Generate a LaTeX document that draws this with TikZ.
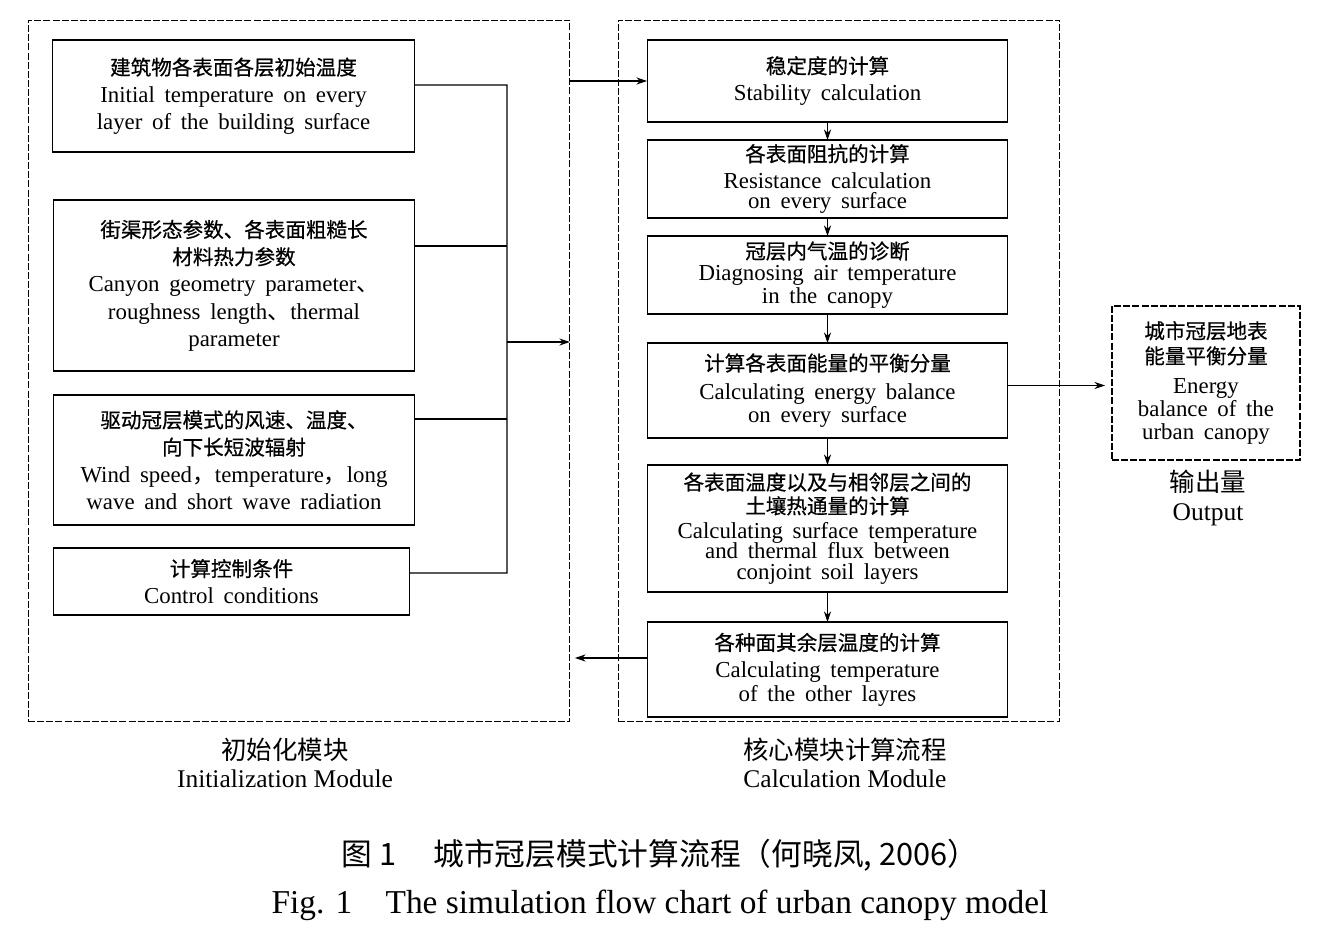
\documentclass[tikz,border=0pt]{standalone}
\usepackage{fontspec}
\setmainfont{Liberation Serif}
\newfontfamily\boxfont{Liberation Serif}[WordSpace=1.7]
\newfontfamily\cjk{Noto Sans CJK SC}
\newfontfamily\cjkb{Noto Sans CJK SC}[Scale=0.9, FakeBold=0.6]
\usetikzlibrary{arrows.meta}
\usetikzlibrary{positioning}

\begin{document}
\begin{tikzpicture}[x=0.02cm,y=-0.02cm,
    >={Stealth[length=6pt,width=4pt]},
    stepbox/.style={draw, rectangle, line width=0.6pt, inner sep=0pt, outer sep=0pt, align=center, font=\boxfont\fontsize{13}{15.5}\selectfont},
    modbox/.style={draw, rectangle, line width=0.6pt, inner sep=0pt, outer sep=0pt, dash pattern=on 4pt off 1.2pt},
    outbox/.style={modbox, align=center, font=\boxfont\fontsize{13}{13.3}\selectfont},
    modlabel/.style={align=center, font=\fontsize{14.5}{16}\selectfont}]
            \useasboundingbox (0,0) rectangle (1320,933);
            % modules
            \node[modbox, minimum width=10.84cm, minimum height=14.04cm] (modL) at (299,371) {};
            \node[modbox, minimum width=8.84cm, minimum height=14.04cm] (modR) at (839,371) {};
            \node[outbox, minimum width=3.76cm, minimum height=3.08cm] (outp) at (1206,383) {\cjkb 城市冠层地表\\[1pt]\cjkb 能量平衡分量\\[3.5pt]Energy\\balance of the\\urban canopy};

            % initialization module
            \node[stepbox, minimum width=7.26cm, minimum height=2.24cm] (init1) at (233.5,96) {\cjkb 建筑物各表面各层初始温度\\Initial temperature on every\\layer of the building surface};
            \node[stepbox, minimum width=7.24cm, minimum height=3.42cm] (init2) at (234,285.5) {\cjkb 街渠形态参数、各表面粗糙长\\\cjkb 材料热力参数\\Canyon geometry parameter{\cjk 、}\\roughness length{\cjk 、}thermal\\parameter};
            \node[stepbox, minimum width=7.24cm, minimum height=2.60cm] (init3) at (234,460) {\cjkb 驱动冠层模式的风速、温度、\\\cjkb 向下长短波辐射\\Wind speed{\cjk ，}temperature{\cjk ，}long\\wave and short wave radiation};
            \node[stepbox, minimum width=7.14cm, minimum height=1.34cm] (init4) at (231.5,581.5) {\cjkb 计算控制条件\\Control conditions};

            % calculation module
            \node[stepbox, minimum width=7.22cm, minimum height=1.64cm] (core1) at (827.5,81) {\cjkb 稳定度的计算\\Stability calculation};
            \node[stepbox, minimum width=7.22cm, minimum height=1.56cm] (core2) at (827.5,179) {\cjkb 各表面阻抗的计算\\Resistance calculation\\[-4pt]on every surface};
            \node[stepbox, minimum width=7.22cm, minimum height=1.56cm] (core3) at (827.5,275) {\cjkb 冠层内气温的诊断\\[-3pt]Diagnosing air temperature\\[-2.5pt]in the canopy};
            \node[stepbox, minimum width=7.22cm, minimum height=1.90cm] (core4) at (827.5,390.5) {\cjkb 计算各表面能量的平衡分量\\[1pt]Calculating energy balance\\[-2.5pt]on every surface};
            \node[stepbox, minimum width=7.22cm, minimum height=2.54cm] (core5) at (827.5,528.5) {\cjkb 各表面温度以及与相邻层之间的\\[-2pt]\cjkb 土壤热通量的计算\\[-1.5pt]Calculating surface temperature\\[-4pt]and thermal flux between\\[-3.5pt]conjoint soil layers};
            \node[stepbox, minimum width=7.22cm, minimum height=1.90cm] (core6) at (827.5,669.5) {\cjkb 各种面其余层温度的计算\\Calculating temperature\\[-2pt]of the other layres};

            % labels
            \node[modlabel] (labL) at (285,763) {\cjk 初始化模块\\Initialization Module};
            \node[modlabel] (labR) at (845,763) {\cjk 核心模块计算流程\\Calculation Module};
            \node[modlabel] (labO) at (1208,498) {\cjk 输出量\\Output};
            \node[font=\fontsize{17.5}{20}\selectfont] (cap1) at (660,855) {\cjk 图 1\hspace{1.2em}城市冠层模式计算流程（何晓凤, 2006）};
            \node[font=\fontsize{19}{22}\selectfont] (cap2) at (660,905) {Fig. 1\quad The simulation flow chart of urban canopy model};

            % bus of the initialization module
            \coordinate (busT) at (507,85);
            \coordinate (busB) at (507,573);
            \coordinate (busM) at (507,342);
            \draw[line width=0.6pt] ([yshift=0.22cm]init1.east) -- (busT) -- (busB) -- ([yshift=0.17cm]init4.east);
            \draw[line width=0.6pt] ([yshift=0.79cm]init2.east) -- +(92,0);
            \draw[line width=0.6pt] ([yshift=0.82cm]init3.east) -- +(92,0);
            \draw[->,line width=0.6pt] (busM) -- (busM -| modL.east);

            % flow
            \draw[->,line width=0.6pt] (core1.west -| modL.east) -- (core1.west);
            \draw[->,line width=0.6pt] (core1) -- (core2);
            \draw[->,line width=0.6pt] (core2) -- (core3);
            \draw[->,line width=0.6pt] (core3) -- (core4);
            \draw[->,line width=0.6pt] (core4) -- (core5);
            \draw[->,line width=0.6pt] (core5) -- (core6);
            \draw[->,line width=0.6pt] ([yshift=0.23cm]core6.west) -- ([yshift=0.23cm,xshift=0.1cm]core6.west -| modL.east);
            \draw[->,line width=0.6pt] ([yshift=0.1cm]core4.east) -- ([yshift=0.1cm,xshift=-0.14cm]core4.east -| outp.west);
        \end{tikzpicture}
\end{document}
